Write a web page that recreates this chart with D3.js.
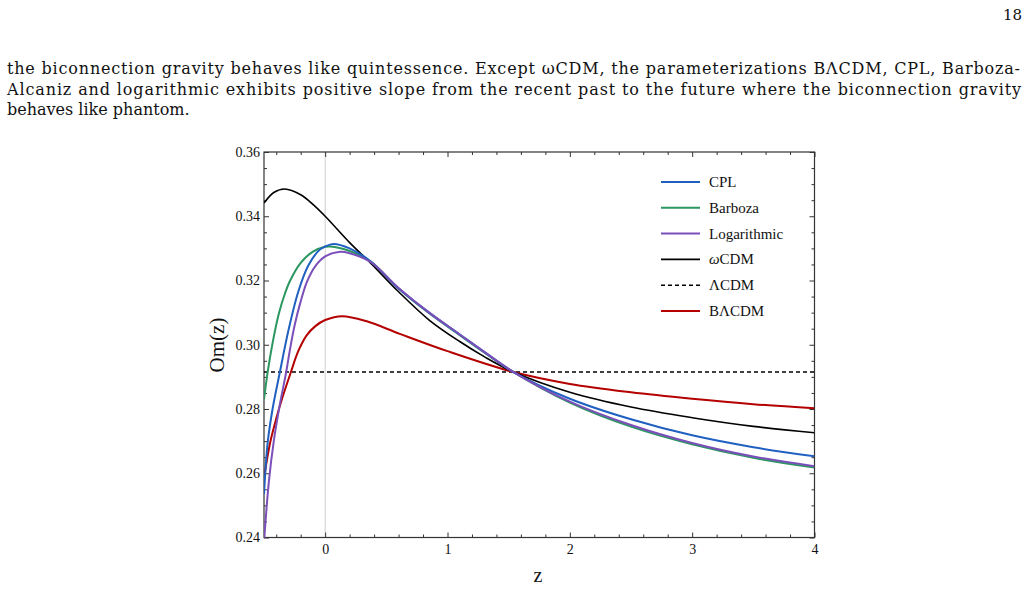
<!DOCTYPE html>
<html>
  <head>
    <title>Om(z)</title>
    <script src="https://cdn.jsdelivr.net/npm/d3@7"></script>
    <style>
      body { margin: 0; background: #fff; }
      text { font-family: "Liberation Serif", "DejaVu Serif", serif; fill: #111; }
    </style>
  </head>
  <body>
    <svg width="1029" height="609" id="mainsvg"></svg>
    <script>
    // series data
    const cplZ  = [-0.5, -0.47, -0.43, -0.37, -0.3, -0.22, -0.14, -0.06, 0, 0.068, 0.2, 0.37, 0.6, 0.85, 1.1, 1.3, 1.54, 2, 2.5, 3, 3.5, 4];
    const cplV  = [0.2535, 0.2695, 0.2800, 0.2915, 0.3045, 0.3165, 0.3245, 0.3290, 0.3306, 0.3314, 0.3300, 0.3260, 0.3175, 0.3100, 0.3032, 0.2978, 0.2915, 0.2832, 0.2768, 0.2718, 0.2681, 0.2653];

    const barZ  = [-0.5, -0.47, -0.43, -0.38, -0.33, -0.286, -0.2, -0.1, 0, 0.04, 0.2, 0.37, 0.6, 0.85, 1.1, 1.3, 1.54, 2, 2.5, 3, 3.5, 4];
    const barV  = [0.2830, 0.2915, 0.3005, 0.3095, 0.3158, 0.3200, 0.3255, 0.3290, 0.3305, 0.3306, 0.3292, 0.3260, 0.3175, 0.3098, 0.3030, 0.2976, 0.2915, 0.2820, 0.2745, 0.2690, 0.2648, 0.2618];

    const logZ  = [-0.5, -0.46, -0.42, -0.37, -0.32, -0.29, -0.25, -0.2, -0.15, -0.08, 0, 0.11, 0.2, 0.37, 0.6, 0.85, 1.1, 1.3, 1.54, 2, 2.5, 3, 3.5, 4];
    const logV  = [0.2385, 0.2575, 0.2700, 0.2815, 0.2912, 0.2980, 0.3060, 0.3135, 0.3195, 0.3245, 0.3275, 0.3289, 0.3285, 0.3258, 0.3177, 0.3100, 0.3032, 0.2978, 0.2915, 0.2823, 0.2750, 0.2694, 0.2652, 0.2622];

    const wcdmZ = [-0.5, -0.42, -0.33, -0.2, -0.1, 0, 0.2, 0.37, 0.6, 0.85, 1.1, 1.3, 1.54, 2, 2.5, 3, 3.5, 4];
    const wcdmV = [0.3441, 0.3474, 0.3485, 0.3467, 0.3437, 0.3400, 0.3318, 0.3255, 0.3165, 0.3077, 0.3010, 0.2963, 0.2915, 0.2852, 0.2806, 0.2773, 0.2746, 0.2726];

    const lcdmZ = [-0.5, 4];
    const lcdmV = [0.2915, 0.2915];

    const blcdmZ = [-0.5, -0.45, -0.4, -0.35, -0.28, -0.22, -0.15, -0.08, 0, 0.14, 0.34, 0.61, 1, 1.54, 2, 2.5, 3, 3.5, 4];
    const blcdmV = [0.2585, 0.2695, 0.2770, 0.2835, 0.2915, 0.2980, 0.3030, 0.3058, 0.3077, 0.3089, 0.3073, 0.3034, 0.2980, 0.2915, 0.2878, 0.2852, 0.2832, 0.2815, 0.2802];

    const seriesNames = ['CPL', 'Barboza', 'Logarithmic', 'ωCDM', 'ΛCDM', 'BΛCDM'];
    const seriesColors = ['#2060c0', '#2a9660', '#7b4fba', '#000000', '#000000', '#b40000'];

    const xMajor = [0, 1, 2, 3, 4];
    const yMajor = [0.24, 0.26, 0.28, 0.30, 0.32, 0.34, 0.36];

    const paragraph = [
      'the biconnection gravity behaves like quintessence. Except ωCDM, the parameterizations BΛCDM, CPL, Barboza-',
      'Alcaniz and logarithmic exhibits positive slope from the recent past to the future where the biconnection gravity',
      'behaves like phantom.'
    ];

    let svg = d3.select('#mainsvg');

    // page number + paragraph
    svg.append('text').attr('x', 1022).attr('y', 20).attr('text-anchor', 'end')
      .style('font-family', '"DejaVu Serif", serif').style('font-size', '15px').text('18');
    const lineLen = [1013, 1014, null]; // last line is not justified
    paragraph.forEach((t, i) => {
      const tx = svg.append('text').attr('x', 7).attr('y', 74 + i * 20.5)
        .style('font-family', '"DejaVu Serif", serif')
        .style('font-size', '16px').text(t);
      if (lineLen[i]) tx.attr('textLength', lineLen[i]).attr('lengthAdjust', 'spacing');
    });

    // plot area
    const L = 264, R = 814.5, T = 152, B = 537.5;
    const x = d3.scaleLinear().domain([-0.5, 4]).range([L, R]);
    const y = d3.scaleLinear().domain([0.24, 0.36]).range([B, T]);

    const defs = svg.append('defs');
    defs.append('clipPath').attr('id', 'clip').append('rect')
      .attr('x', L).attr('y', T).attr('width', R - L).attr('height', B - T);

    // grid line at z = 0
    svg.append('line').attr('x1', x(0)).attr('x2', x(0)).attr('y1', T).attr('y2', B)
      .attr('stroke', '#cfcfcf').attr('stroke-width', 1);

    const minorX = d3.range(-0.4, 4.0001, 0.2).filter(v => Math.abs(v - Math.round(v)) > 1e-6);
    const minorY = d3.range(0.245, 0.3600001, 0.005).filter(v => Math.abs(v * 50 - Math.round(v * 50)) > 1e-6);

    function styleAxis(g) {
      g.select('.domain').remove();
      g.selectAll('line').attr('stroke', '#333').attr('stroke-width', 1);
      g.selectAll('text').style('font-family', '"Liberation Serif", serif').style('font-size', '14px').attr('fill', '#222');
    }

    // bottom
    svg.append('g').attr('transform', `translate(0,${B})`)
      .call(d3.axisBottom(x).tickValues(xMajor).tickSize(-5).tickPadding(7).tickFormat(d3.format('d')))
      .call(styleAxis);
    svg.append('g').attr('transform', `translate(0,${B})`)
      .call(d3.axisBottom(x).tickValues(minorX).tickSize(-3).tickFormat(''))
      .call(styleAxis);
    // top
    svg.append('g').attr('transform', `translate(0,${T})`)
      .call(d3.axisTop(x).tickValues(xMajor).tickSize(-5).tickFormat(''))
      .call(styleAxis);
    svg.append('g').attr('transform', `translate(0,${T})`)
      .call(d3.axisTop(x).tickValues(minorX).tickSize(-3).tickFormat(''))
      .call(styleAxis);
    // left
    svg.append('g').attr('transform', `translate(${L},0)`)
      .call(d3.axisLeft(y).tickValues(yMajor).tickSize(-5).tickPadding(4).tickFormat(d3.format('.2f')))
      .call(styleAxis);
    svg.append('g').attr('transform', `translate(${L},0)`)
      .call(d3.axisLeft(y).tickValues(minorY).tickSize(-3).tickFormat(''))
      .call(styleAxis);
    // right
    svg.append('g').attr('transform', `translate(${R},0)`)
      .call(d3.axisRight(y).tickValues(yMajor).tickSize(-5).tickFormat(''))
      .call(styleAxis);
    svg.append('g').attr('transform', `translate(${R},0)`)
      .call(d3.axisRight(y).tickValues(minorY).tickSize(-3).tickFormat(''))
      .call(styleAxis);

    // frame
    svg.append('rect').attr('x', L).attr('y', T).attr('width', R - L).attr('height', B - T)
      .attr('fill', 'none').attr('stroke', '#333').attr('stroke-width', 1.2);

    // curves
    const series = [
      { z: cplZ, v: cplV, w: 2 },
      { z: barZ, v: barV, w: 2 },
      { z: logZ, v: logV, w: 2 },
      { z: wcdmZ, v: wcdmV, w: 1.6 },
      { z: lcdmZ, v: lcdmV, w: 1.5, dash: '4,3' },
      { z: blcdmZ, v: blcdmV, w: 2 }
    ];
    const line = d3.line().x(d => x(d[0])).y(d => y(d[1])).curve(d3.curveCatmullRom.alpha(0.5));
    const drawOrder = [4, 5, 3, 1, 0, 2];
    const curves = svg.append('g').attr('clip-path', 'url(#clip)');
    drawOrder.forEach(i => {
      const s = series[i];
      curves.append('path')
        .attr('d', line(d3.zip(s.z, s.v)))
        .attr('fill', 'none')
        .attr('stroke', seriesColors[i])
        .attr('stroke-width', s.w)
        .attr('stroke-dasharray', s.dash || null);
    });

    // legend
    const lg = svg.append('g');
    seriesNames.forEach((name, i) => {
      const yy = 182 + i * 25.8;
      lg.append('line').attr('x1', 661).attr('x2', 700).attr('y1', yy).attr('y2', yy)
        .attr('stroke', seriesColors[i]).attr('stroke-width', series[i].w)
        .attr('stroke-dasharray', series[i].dash || null);
      const t = lg.append('text').attr('x', 709).attr('y', yy + 5).style('font-size', '15px');
      if (name.startsWith('ω')) {
        t.append('tspan').style('font-style', 'italic').text('ω');
        t.append('tspan').text(name.slice(1));
      } else {
        t.text(name);
      }
    });

    // axis titles
    svg.append('text').attr('transform', 'translate(224,345) rotate(-90)')
      .attr('text-anchor', 'middle').style('font-size', '21px').text('Om(z)');
    svg.append('text').attr('x', 538).attr('y', 582).attr('text-anchor', 'middle')
      .style('font-size', '20px').text('z');
    </script>
  </body>
</html>
